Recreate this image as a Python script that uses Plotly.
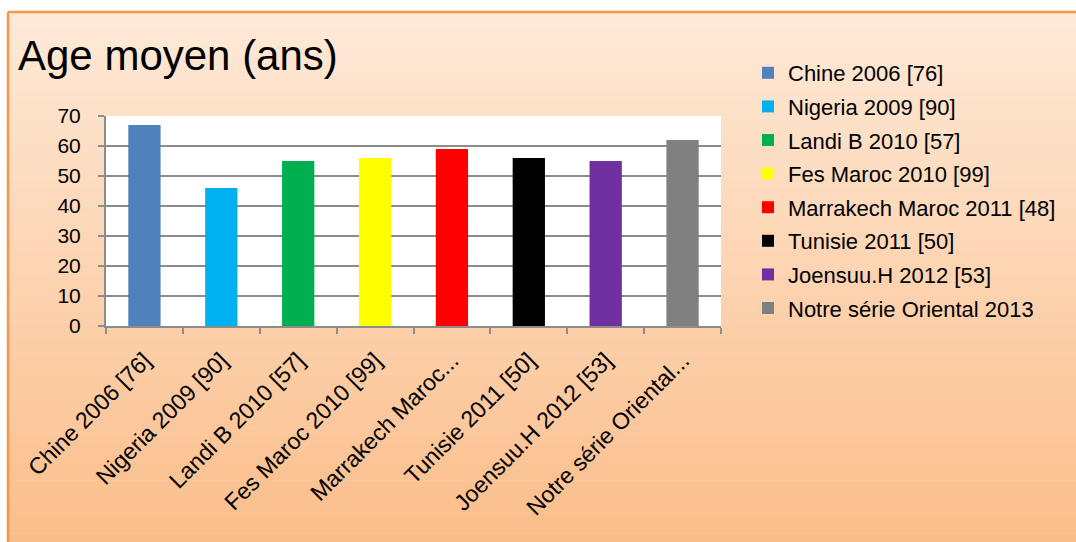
import plotly.graph_objects as go

# ---- data ----
categories = ["Chine 2006 [76]", "Nigeria 2009 [90]", "Landi B 2010 [57]", "Fes Maroc 2010 [99]",
              "Marrakech Maroc 2011 [48]", "Tunisie 2011 [50]", "Joensuu.H 2012 [53]",
              "Notre série Oriental 2013"]
tick_labels = ["Chine 2006 [76]", "Nigeria 2009 [90]", "Landi B 2010 [57]", "Fes Maroc 2010 [99]",
               "Marrakech Maroc...", "Tunisie 2011 [50]", "Joensuu.H 2012 [53]",
               "Notre série Oriental..."]
age_values = [67, 46, 55, 56, 59, 56, 55, 62]
bar_colors = ["#4f81bd", "#00b0f0", "#00b050", "#ffff00", "#ff0000", "#000000", "#7030a0", "#808080"]
y_ticks = [0, 10, 20, 30, 40, 50, 60, 70]

W, H = 1076, 542
ML, MR, MT, MB = 106, 355, 116, 216
PW, PH = W - ML - MR, H - MT - MB

def px_x(px):
    return (px - ML) / PW

def px_y(py):
    return (H - MB - py) / PH

FONT = "Liberation Sans"

fig = go.Figure()
for i, (cat, val, col) in enumerate(zip(categories, age_values, bar_colors)):
    fig.add_trace(go.Bar(x=[cat], y=[val], name=cat, marker=dict(color=col, line=dict(width=0)),
                         legendgroup=f"g{i}", hoverinfo="x+y"))

# gradient background bands
shapes = []
top_c = (254, 233, 215)
bot_c = (251, 190, 139)
y0, y1 = 12, H
n = 60
for k in range(n):
    t = k / (n - 1)
    c = tuple(round(top_c[j] + (bot_c[j] - top_c[j]) * t) for j in range(3))
    ya = y0 + (y1 - y0) * k / n
    yb = y0 + (y1 - y0) * (k + 1) / n + 0.6
    shapes.append(dict(type="rect", xref="paper", yref="paper", layer="below",
                       x0=px_x(8), x1=px_x(W + 2), y0=px_y(ya), y1=px_y(min(yb, H + 2)),
                       fillcolor="rgb(%d,%d,%d)" % c, line=dict(width=0)))
# orange frame (top + left)
shapes.append(dict(type="line", xref="paper", yref="paper", layer="below",
                   x0=px_x(8), x1=px_x(W + 2), y0=px_y(12), y1=px_y(12),
                   line=dict(color="#f79646", width=2.5)))
shapes.append(dict(type="line", xref="paper", yref="paper", layer="below",
                   x0=px_x(8), x1=px_x(8), y0=px_y(12), y1=px_y(H + 2),
                   line=dict(color="#f79646", width=2.5)))
# white plot area
shapes.append(dict(type="rect", xref="x domain", yref="y domain", layer="below",
                   x0=0, x1=1, y0=0, y1=1, fillcolor="white", line=dict(width=0)))

fig.update_layout(
    width=W, height=H,
    margin=dict(l=ML, r=MR, t=MT, b=MB, pad=0),
    paper_bgcolor="white", plot_bgcolor="white",
    barmode="relative", bargap=0.58,
    shapes=shapes,
    font=dict(family=FONT, color="black"),
    title=dict(text="Age moyen (ans)", font=dict(family=FONT, size=42, color="black"),
               xref="container", yref="container", x=18 / W, xanchor="left",
               y=1 - 41 / H, yanchor="top"),
    legend=dict(xref="container", yref="container", x=748 / W, y=1 - 52 / H,
                xanchor="left", yanchor="top", font=dict(family=FONT, size=22, color="black"),
                bgcolor="rgba(0,0,0,0)", tracegroupgap=2, itemwidth=30, maxheight=450),
    xaxis=dict(type="category", categoryorder="array", categoryarray=categories,
               tickmode="array", tickvals=categories, ticktext=tick_labels,
               tickangle=-45, tickfont=dict(family=FONT, size=23, color="black"),
               ticklabelstandoff=10,
               showline=True, linecolor="#8c8c8c", linewidth=2,
               ticks="outside", tickson="boundaries", ticklen=6, tickwidth=1.5, tickcolor="#8c8c8c",
               showgrid=False, zeroline=False, fixedrange=True),
    yaxis=dict(range=[0, 70], tickmode="array", tickvals=y_ticks,
               tickfont=dict(family=FONT, size=21, color="black"),
               showline=True, linecolor="#8c8c8c", linewidth=2,
               ticks="outside", ticklen=6, tickwidth=1.5, tickcolor="#8c8c8c",
               ticklabelstandoff=13,
               showgrid=True, gridcolor="#8c8c8c", gridwidth=2, zeroline=False, fixedrange=True),
)

fig.write_html("out.html")
